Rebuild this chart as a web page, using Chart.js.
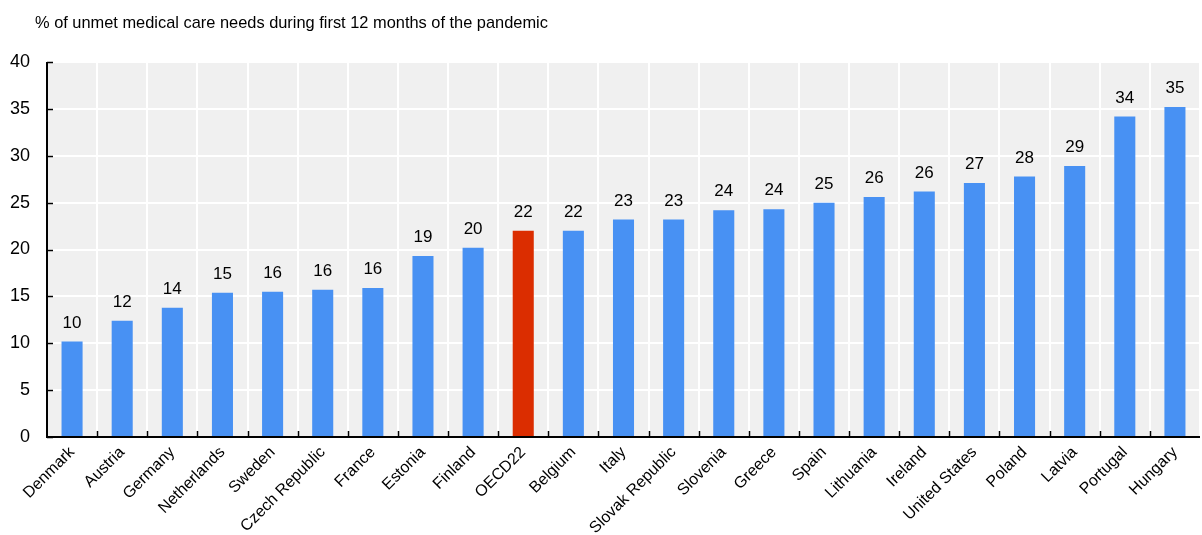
<!DOCTYPE html>
<html>
<head>
<meta charset="utf-8">
<script src="https://cdn.jsdelivr.net/npm/chart.js@4"></script>
<style>
  html, body { margin: 0; padding: 0; background: #fff; }
  #wrap { width: 1202px; height: 535px; position: relative; }
</style>
</head>
<body>
<div id="wrap"><canvas id="chart" width="1202" height="535"></canvas></div>
<script>
const TITLE = '% of unmet medical care needs during first 12 months of the pandemic';

const countries = [
  'Denmark', 'Austria', 'Germany', 'Netherlands', 'Sweden', 'Czech Republic', 'France',
  'Estonia', 'Finland', 'OECD22', 'Belgium', 'Italy', 'Slovak Republic', 'Slovenia',
  'Greece', 'Spain', 'Lithuania', 'Ireland', 'United States', 'Poland', 'Latvia',
  'Portugal', 'Hungary'
];

const unmetNeeds = [
  10.2, 12.4, 13.8, 15.4, 15.5, 15.7, 15.9,
  19.3, 20.2, 22.0, 22.0, 23.2, 23.2, 24.2,
  24.3, 25.0, 25.6, 26.2, 27.1, 27.8, 28.9,
  34.2, 35.2
];

const yTicks = [0, 5, 10, 15, 20, 25, 30, 35, 40];

const BLUE = '#4891F3';
const RED = '#DB2D00';
const FONT = "'Liberation Sans', Arial, sans-serif";

const barColors = countries.map(c => c === 'OECD22' ? RED : BLUE);

// Grey plot background
const backgroundPlugin = {
  id: 'plotBackground',
  beforeDraw(chart) {
    const { ctx, chartArea } = chart;
    ctx.save();
    ctx.fillStyle = '#F0F0F0';
    ctx.fillRect(chartArea.left, chartArea.top, chartArea.right - chartArea.left, chartArea.bottom - chartArea.top);
    ctx.restore();
  }
};

// Black axis lines with short inward ticks
const axesPlugin = {
  id: 'axesInward',
  afterDatasetsDraw(chart) {
    const { ctx, chartArea, scales } = chart;
    ctx.save();
    ctx.strokeStyle = '#000';
    ctx.lineWidth = 2;
    ctx.beginPath();
    ctx.moveTo(chartArea.left, chartArea.top);
    ctx.lineTo(chartArea.left, chartArea.bottom);
    ctx.lineTo(chartArea.right, chartArea.bottom);
    ctx.stroke();

    ctx.lineWidth = 1.5;
    ctx.beginPath();
    yTicks.forEach(v => {
      const y = Math.round(scales.y.getPixelForValue(v)) + 0.5;
      ctx.moveTo(chartArea.left, y);
      ctx.lineTo(chartArea.left + 6, y);
    });
    for (let i = 1; i < countries.length; i++) {
      const x = Math.round((scales.x.getPixelForValue(i - 1) + scales.x.getPixelForValue(i)) / 2) + 0.5;
      ctx.moveTo(x, chartArea.bottom);
      ctx.lineTo(x, chartArea.bottom - 6);
    }
    ctx.stroke();
    ctx.restore();
  }
};

// Rounded value above each bar + title
const labelsPlugin = {
  id: 'valueLabels',
  afterDraw(chart) {
    const { ctx } = chart;
    const meta = chart.getDatasetMeta(0);
    ctx.save();
    ctx.fillStyle = '#000';
    ctx.font = '17px ' + FONT;
    ctx.textAlign = 'center';
    ctx.textBaseline = 'bottom';
    meta.data.forEach((bar, i) => {
      ctx.fillText(String(Math.round(unmetNeeds[i])), bar.x, bar.y - 10);
    });

    ctx.font = '16.4px ' + FONT;
    ctx.textAlign = 'left';
    ctx.textBaseline = 'middle';
    ctx.fillText(TITLE, 35, 23);
    ctx.restore();
  }
};

new Chart(document.getElementById('chart'), {
  type: 'bar',
  data: {
    labels: countries,
    datasets: [{
      data: unmetNeeds,
      backgroundColor: barColors,
      borderWidth: 0,
      categoryPercentage: 1.0,
      barPercentage: 0.42
    }]
  },
  options: {
    responsive: false,
    animation: false,
    layout: { padding: { top: 62, right: 2, left: 0, bottom: 0 } },
    plugins: {
      legend: { display: false },
      tooltip: { enabled: false }
    },
    scales: {
      x: {
        offset: true,
        grid: {
          offset: true,
          color: '#FFFFFF',
          lineWidth: 2,
          drawTicks: false
        },
        border: { display: false },
        ticks: {
          color: '#000',
          font: { family: FONT, size: 16 },
          maxRotation: 45,
          minRotation: 45,
          autoSkip: false,
          padding: 6
        },
        afterFit(scale) { scale.height = 98; }
      },
      y: {
        min: 0,
        max: 40,
        afterBuildTicks(scale) { scale.ticks = yTicks.map(v => ({ value: v })); },
        grid: {
          color: '#FFFFFF',
          lineWidth: 2,
          drawTicks: false
        },
        border: { display: false },
        ticks: {
          color: '#000',
          font: { family: FONT, size: 18 },
          padding: 17
        },
        afterFit(scale) { scale.width = 47; }
      }
    }
  },
  plugins: [backgroundPlugin, axesPlugin, labelsPlugin]
});
</script>
</body>
</html>
